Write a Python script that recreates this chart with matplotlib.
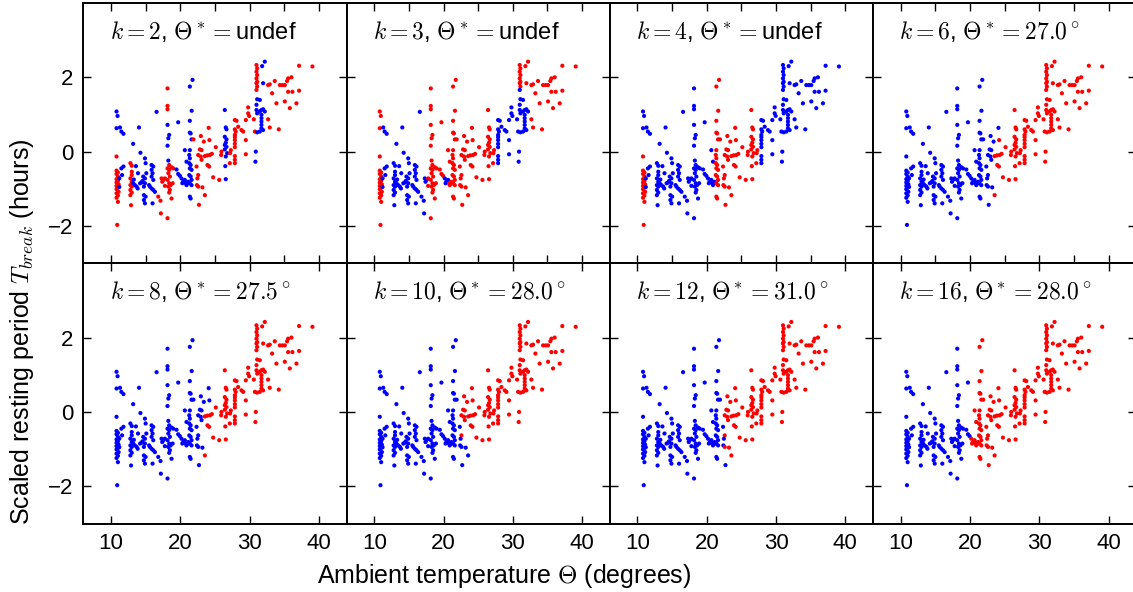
import numpy as np
import matplotlib.pyplot as plt

plt.rcParams['font.family'] = ['Liberation Sans', 'DejaVu Sans']
plt.rcParams['mathtext.fontset'] = 'cm'

# ambient temperature (deg) and scaled resting period
temp = [
    10.9, 10.8, 10.95, 10.8, 11.3, 11.5, 11.8, 10.8,
    10.8, 11.0, 10.8, 11.0, 10.8, 11.0, 10.8, 11.1, 10.8, 11.0, 10.8, 11.1, 10.8, 11.0, 10.8, 11.0, 11.2, 11.2,
    11.5, 11.8, 11.6,
    12.8, 13.0, 13.0, 13.0, 12.8, 13.0, 12.8, 13.0, 12.8, 13.0, 12.8, 12.9, 13.6, 13.2, 13.45, 13.7, 13.85, 13.9, 14.05, 13.2, 13.3,
    14.9, 15.0, 14.65, 14.9, 14.55, 14.9, 14.75, 14.75, 15.0, 14.75, 14.9, 14.4, 14.2, 14.25, 15.1,
    15.86, 16.1, 15.86, 16.0, 15.86, 16.1, 15.86, 16.1, 16.34, 16.0, 15.62, 15.5, 16.58,
    16.82, 17.15, 17.2, 17.3, 17.54, 17.78, 17.4, 17.78,
    18.16, 18.16, 18.16, 18.16, 18.4, 18.28, 18.16, 18.28, 18.4, 18.16, 18.4, 18.28, 18.5, 18.16, 18.4, 18.28,
    18.5, 18.4, 18.16, 18.74, 18.74, 18.98, 18.6, 18.9,
    19.7, 19.46, 19.7, 19.94, 20.18, 20.42, 20.3, 20.66, 20.9, 21.14,
    21.38, 21.77, 21.65, 21.38, 21.38, 21.5, 21.63, 21.9, 20.66, 21.38, 21.3, 21.38, 20.9, 21.3, 21.5, 21.38,
    21.63, 21.3, 21.5, 21.63, 21.14, 21.38, 21.63, 21.38, 21.5, 20.8,
    22.97, 22.83, 23.07, 22.59, 22.95, 23.07, 22.35, 22.59, 22.47, 22.4, 22.59, 23.2, 23.55, 22.7, 23.4, 24.1, 24.2,
    23.55, 23.88, 24.27, 24.56, 23.93, 24.17, 24.75, 25.13, 25.62, 25.95, 25.9,
    26.43, 26.57, 26.67, 26.43, 26.67, 26.57, 26.43, 26.67, 26.43, 26.77, 26.57, 26.5, 26.57, 27.15, 27.3, 27.2,
    27.88, 28.12, 27.88, 28.0, 27.88, 27.88, 27.88, 27.88, 27.88, 27.88, 27.88, 27.88,
    28.36, 28.84, 29.08, 29.46, 29.46, 29.46, 29.8, 29.8, 29.94, 30.62, 30.9, 30.85, 30.77, 31.1,
    31.0, 31.1, 31.0, 31.1, 31.0, 31.1, 31.0, 31.1, 31.0, 31.48, 31.1, 31.0, 31.0, 31.1, 31.48, 31.72, 31.96,
    32.2, 31.72, 31.72, 31.72, 31.72, 31.72, 31.96, 31.48,
    32.2, 31.82, 31.96, 32.68, 32.92, 33.26, 33.64, 32.68, 32.92, 34.22, 33.88, 34.37, 34.75, 35.09, 35.42,
    35.57, 36.05, 35.09, 35.57, 36.19, 35.81, 36.77, 37.15, 37.15, 39.08,
]
t_break = [
    -1.97, 1.08, 0.96, 0.63, 0.65, 0.54, 0.48, -0.13,
    -0.51, -0.56, -0.60, -0.67, -0.74, -0.79, -0.83, -0.88, -0.92, -0.97, -1.01, -1.08, -1.12, -1.18, -1.24, -1.35, -0.72, -0.95,
    -0.45, -0.40, -0.63,
    -0.31, -0.38, -0.54, -0.63, -0.72, -0.81, -0.90, -0.94, -1.03, -1.10, -1.17, -1.44, -0.39, -0.85, -0.90, -0.94, -0.99, -0.58, 0.65, 0.21, -0.75,
    -0.18, -0.31, -0.67, -0.72, -0.79, -0.85, -0.94, -1.17, -1.21, -1.30, -1.39, -0.83, -0.85, -0.03, -0.58,
    -0.36, -0.40, -0.49, -0.58, -0.67, -0.76, -0.99, -1.03, -1.08, -1.39, -0.94, -0.90, 1.07,
    -1.21, -1.32, -1.66, -0.72, -0.76, -0.72, -0.81, -0.92,
    1.70, 1.23, 1.14, 0.72, 0.45, 0.36, 0.16, -0.24, -0.36, -0.45, -0.49, -0.58, -0.67, -0.76, -0.85, -0.94,
    -1.03, -1.10, -1.79, -1.26, -0.42, -0.45, -0.90, -0.85,
    0.79, -0.48, -0.60, -0.65, -0.72, -0.81, -0.85, -0.76, -0.90, -0.85,
    1.75, 1.93, 1.10, 0.83, 0.51, 0.49, 0.33, 0.33, 0.04, 0.04, -0.09, -0.18, -0.27, -0.31, -0.36, -0.45,
    -0.49, -0.63, -0.67, -0.76, -0.81, -0.85, -0.90, -1.21, -1.26, -0.85,
    0.42, 0.06, 0.04, -0.09, -0.13, -0.22, -0.40, -0.63, -0.72, -0.90, -0.94, -0.96, -1.17, -1.43, 0.27, 0.64, 0.31,
    -0.12, -0.10, -0.09, -0.06, -0.36, -0.40, -0.69, 0.12, -0.76, 0.0, -0.09,
    1.12, 0.65, 0.60, 0.40, 0.33, 0.24, 0.18, 0.13, 0.06, -0.04, -0.13, -0.39, -0.74, -0.31, 0.04, -0.04,
    0.85, 0.83, 0.60, 0.54, 0.45, 0.39, 0.31, 0.21, 0.12, -0.12, -0.22, -0.31,
    0.67, 0.58, 0.54, 0.31, -0.07, 0.85, 1.03, 1.19, 0.96, 0.87, 0.0, -0.27, 0.54, 0.52,
    2.33, 2.24, 2.15, 2.06, 1.97, 1.88, 1.84, 1.75, 1.66, 1.39, 1.41, 1.26, 1.12, 1.03, 1.08, 1.12, 1.14,
    1.08, 0.99, 0.90, 0.81, 0.72, 0.63, 0.58, 0.54,
    2.42, 2.30, 1.84, 1.79, 1.81, 1.57, 1.90, 0.87, 0.65, 0.60, 1.30, 1.79, 1.79, 1.79, 1.90,
    1.97, 2.00, 1.35, 1.61, 1.61, 1.17, 1.30, 1.64, 2.31, 2.29,
]

titles = [
    r'$k=2$, $\Theta^*=$undef', r'$k=3$, $\Theta^*=$undef',
    r'$k=4$, $\Theta^*=$undef', r'$k=6$, $\Theta^*=27.0^\circ$',
    r'$k=8$, $\Theta^*=27.5^\circ$', r'$k=10$, $\Theta^*=28.0^\circ$',
    r'$k=12$, $\Theta^*=31.0^\circ$', r'$k=16$, $\Theta^*=28.0^\circ$',
]

# colour of each cluster band along temperature: (upper edge, colour)
bands = [
    [(11.2, 'r'), (12.4, 'b'), (13.1, 'r'), (16.6, 'b'), (19.2, 'r'), (21.9, 'b'),
     (26.2, 'r'), (27.0, 'b'), (30.8, 'r'), (32.3, 'b'), (99, 'r')],
    [(11.2, 'r'), (17.6, 'b'), (27.4, 'r'), (32.4, 'b'), (99, 'r')],
    [(11.2, 'r'), (20.4, 'b'), (27.4, 'r'), (99, 'b')],
    [(23.5, 'b'), (99, 'r')],
    [(23.5, 'b'), (99, 'r')],
    [(22.5, 'b'), (99, 'r')],
    [(22.5, 'b'), (99, 'r')],
    [(20.1, 'b'), (99, 'r')],
]
# points that do not follow their band: (tmin, tmax, ymin, ymax, colour)
exceptions = [
    [(10, 11.3, 0.3, 2, 'b'), (30.8, 31.3, 1.5, 3, 'r'), (18.0, 18.6, -0.3, 1.0, 'b')],
    [(30.8, 32.4, 1.7, 3, 'r'), (20.0, 20.7, -1.0, -0.6, 'b')],
    [(10, 11.3, 0.3, 2, 'b'), (20.4, 21.15, -1.2, 0.2, 'b')],
    [(23.9, 24.3, 0.5, 0.8, 'b')],
    [(23.9, 24.3, 0.2, 0.8, 'b')],
    [(22.5, 23.7, -1.5, -0.9, 'b')],
    [(22.5, 23.0, -1.5, -1.3, 'b')],
    [],
]

temp = np.array(temp)
t_break = np.array(t_break)
palette = {'r': '#ff0000', 'b': '#0000ff'}

fig, axes = plt.subplots(2, 4, figsize=(11.33, 5.92), dpi=100)
fig.subplots_adjust(left=0.0735, right=1.0029, top=0.9951, bottom=0.1157,
                    wspace=0, hspace=0)

for i, ax in enumerate(axes.flat):
    cols = []
    for x, y in zip(temp, t_break):
        c = next(col for edge, col in bands[i] if x < edge)
        for x0, x1, y0, y1, col in exceptions[i]:
            if x0 <= x < x1 and y0 <= y < y1:
                c = col
        cols.append(palette[c])
    ax.scatter(temp, t_break, c=cols, s=9, linewidths=0)
    ax.set_xlim(6, 44)
    ax.set_ylim(-3, 4)
    ax.set_yticks([-2, 0, 2])
    if i < 4:
        ax.set_xticks(np.arange(10, 41, 5))
        ax.set_xticklabels([])
    else:
        ax.set_xticks([10, 20, 30, 40])
    if i % 4 != 0:
        ax.set_yticklabels([])
    ax.tick_params(direction='in', top=True, right=True, length=6, width=1,
                   labelsize=16, pad=7)
    for sp in ax.spines.values():
        sp.set_linewidth(1.4)
    ax.text(0.1, 0.89, titles[i], transform=ax.transAxes, fontsize=17,
            va='center', ha='left')

fig.text(0.445, 0.027, r'Ambient temperature $\Theta$ (degrees)', fontsize=18,
         ha='center', va='center')
fig.text(0.019, 0.44, r'Scaled resting period $T_{break}$ (hours)', fontsize=18,
         ha='center', va='center', rotation=90)

fig.savefig('out.png', dpi=100)
